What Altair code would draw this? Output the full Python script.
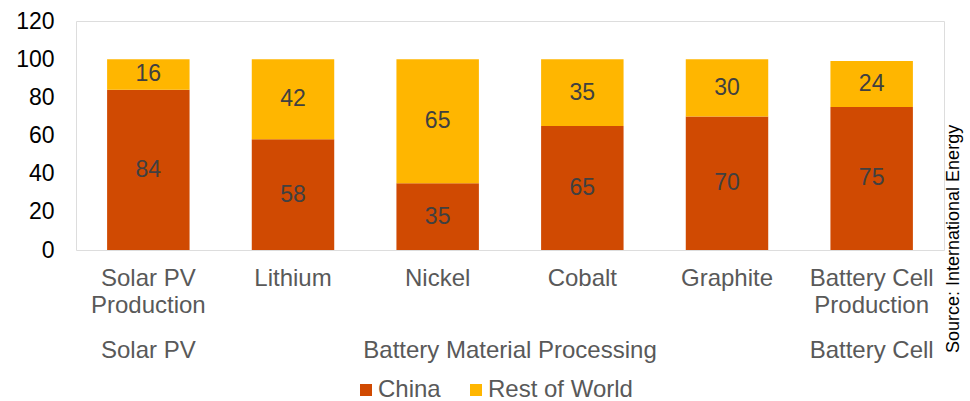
import altair as alt
import pandas as pd

categories = ["Solar PV\nProduction", "Lithium", "Nickel", "Cobalt", "Graphite", "Battery Cell\nProduction"]
groups = ["Solar PV", "Battery Material Processing", "Battery Material Processing",
          "Battery Material Processing", "Battery Material Processing", "Battery Cell"]
china = [84, 58, 35, 65, 70, 75]
rest = [16, 42, 65, 35, 30, 24]
series = ["China", "Rest of World"]
colors = ["#D04A02", "#FFB600"]
y_ticks = [0, 20, 40, 60, 80, 100, 120]
source_text = "Source: International Energy"

rows = []
for i, c in enumerate(categories):
    rows.append({"cat": c, "idx": i, "group": groups[i], "series": series[0], "order": 0, "value": china[i]})
    rows.append({"cat": c, "idx": i, "group": groups[i], "series": series[1], "order": 1, "value": rest[i]})
df = pd.DataFrame(rows)

FONT = "Liberation Sans"
W, H = 868, 229

xscale = alt.Scale(domain=categories, paddingInner=0.43, paddingOuter=0.215)
yscale = alt.Scale(domain=[0, 120])
yaxis = alt.Axis(title=None, values=y_ticks, grid=False, domain=False, ticks=False,
                 labelOverlap=False, labelFontSize=23, labelColor="#000000",
                 labelFont=FONT, labelPadding=22)

base = alt.Chart(df)

bars = base.mark_bar().encode(
    x=alt.X("cat:N", scale=xscale, sort=categories,
            axis=alt.Axis(title=None, domain=False, ticks=False, labelAngle=0,
                          labelExpr="split(datum.label, '\\n')", labelFontSize=24,
                          labelColor="#595959", labelFont=FONT, labelPadding=16,
                          labelLineHeight=27, labelBaseline="top")),
    y=alt.Y("value:Q", stack="zero", scale=yscale, axis=yaxis),
    color=alt.Color("series:N", scale=alt.Scale(domain=series, range=colors),
                    legend=alt.Legend(title=None, orient="none", direction="horizontal",
                                      legendX=278, legendY=357, symbolType="square",
                                      symbolSize=144, labelFontSize=24, labelFont=FONT,
                                      labelColor="#595959", labelOffset=0, columnPadding=23,
                                      symbolStrokeWidth=0)),
    order=alt.Order("order:Q"),
)

labels = base.transform_stack(
    stack="value", groupby=["cat"], as_=["y0", "y1"], sort=[alt.SortField("order")]
).transform_calculate(
    mid="(datum.y0 + datum.y1) / 2"
).mark_text(fontSize=23, font=FONT, color="#404040", baseline="middle").encode(
    x=alt.X("cat:N", scale=xscale, sort=categories, axis=None),
    y=alt.Y("mid:Q", scale=yscale, axis=yaxis),
    text="value:Q",
)

group_labels = base.transform_aggregate(
    pos="mean(idx)", groupby=["group"]
).mark_text(fontSize=24, font=FONT, color="#595959", baseline="middle").encode(
    x=alt.X("pos:Q", scale=alt.Scale(domain=[-0.5, 5.5], nice=False, zero=False), axis=None),
    y=alt.value(330),
    text="group:N",
)

source = alt.Chart(pd.DataFrame({"t": [source_text]})).mark_text(
    fontSize=18, font=FONT, color="#000000", angle=270, align="left", baseline="middle"
).encode(x=alt.value(878), y=alt.value(332), text="t:N")

chart = alt.layer(bars, labels, group_labels, source).resolve_scale(x="independent").properties(
    width=W, height=H,
    autosize=alt.AutoSizeParams(type="none"),
    padding={"left": 76, "top": 21, "right": 26, "bottom": 151},
).configure_view(stroke=None).configure(font=FONT)

chart.save("out.html", embed_options={"renderer": "svg", "actions": False})
